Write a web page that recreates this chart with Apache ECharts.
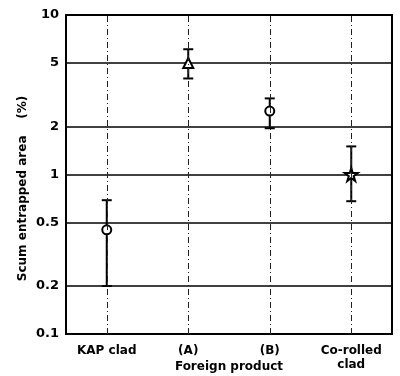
<!DOCTYPE html>
<html>
<head>
<meta charset="utf-8">
<script src="https://cdn.jsdelivr.net/npm/echarts@6/dist/echarts.min.js"></script>
<style>
  html, body { margin: 0; padding: 0; background: #fff; }
  #chart { width: 400px; height: 376px; }
</style>
</head>
<body>
<div id="chart"></div>
<script>
// 类别与数据
const categories = ['KAP clad', '(A)', '(B)', 'Co-rolled\nclad'];
const means = [0.45, 5.0, 2.5, 1.0];
const lows = [0.2, 4.0, 1.95, 0.68];
const highs = [0.69, 6.1, 3.0, 1.5];
const yTicks = [0.1, 0.2, 0.5, 1, 2, 5, 10];

// 每个类别的标记形状
const starPath = 'path://M50,0 L61,35 L98,35 L68,57 L79,91 L50,70 L21,91 L32,57 L2,35 L39,35 Z';
const markers = ['circle', 'triangle', 'circle', starPath];
const markerSizes = [9, 10, 9, 13];

const font = 'DejaVu Sans';
const chart = echarts.init(document.getElementById('chart'));

const option = {
    animation: false,
    grid: {
        left: 66,
        right: 8,
        top: 15,
        bottom: 42,
        outerBoundsMode: 'none', // v6 默认会缩小网格，这里关掉
        show: true,
        borderColor: '#000',
        borderWidth: 2
    },
    xAxis: {
        type: 'category',
        data: categories,
        name: 'Foreign product',
        nameLocation: 'middle',
        nameGap: 27,
        nameMoveOverlap: false,
        nameTextStyle: { color: '#000', fontFamily: font, fontWeight: 'bold', fontSize: 12 },
        axisLine: { lineStyle: { color: '#000', width: 2 } },
        axisTick: { show: false },
        axisLabel: {
            color: '#000', fontFamily: font, fontWeight: 'bold', fontSize: 12,
            margin: 10, lineHeight: 14, interval: 0
        },
        splitLine: { show: false }
    },
    yAxis: {
        type: 'log',
        min: 0.1,
        max: 10,
        name: 'Scum entrapped area    (%)',
        nameLocation: 'middle',
        nameGap: 37,
        nameMoveOverlap: false,
        nameTextStyle: {
            color: '#000', fontFamily: font, fontWeight: 'bold', fontSize: 12,
            padding: [0, 28, 0, 0]
        },
        axisLine: { lineStyle: { color: '#000', width: 2 } },
        axisTick: { show: false, customValues: yTicks },
        axisLabel: {
            customValues: yTicks,
            color: '#000', fontFamily: font, fontWeight: 'bold', fontSize: 13, margin: 7
        },
        splitLine: { show: true, lineStyle: { color: '#000', width: 1.5 } }
    },
    series: [
        {
            // 误差线
            type: 'custom',
            data: categories.map((c, i) => [i, lows[i], highs[i]]),
            renderItem(params, api) {
                const lo = api.coord([api.value(0), api.value(1)]);
                const hi = api.coord([api.value(0), api.value(2)]);
                const w = 5;
                const style = { stroke: '#000', lineWidth: 2 };
                return {
                    type: 'group',
                    children: [
                        { type: 'line', shape: { x1: lo[0], y1: lo[1], x2: hi[0], y2: hi[1] }, style },
                        { type: 'line', shape: { x1: hi[0] - w, y1: hi[1], x2: hi[0] + w, y2: hi[1] }, style },
                        { type: 'line', shape: { x1: lo[0] - w, y1: lo[1], x2: lo[0] + w, y2: lo[1] }, style }
                    ]
                };
            },
            z: 3
        },
        {
            // 平均值标记
            type: 'scatter',
            data: means.map((v, i) => ({ value: [i, v], symbol: markers[i], symbolSize: markerSizes[i] })),
            itemStyle: { color: '#fff', borderColor: '#000', borderWidth: 2, opacity: 1 },
            z: 4,
            markLine: {
                silent: true,
                symbol: 'none',
                label: { show: false },
                lineStyle: { color: '#222', width: 1, type: [6, 3, 1, 3] },
                data: categories.map((c, i) => ({ xAxis: i }))
            }
        }
    ]
};

chart.setOption(option);
</script>
</body>
</html>
